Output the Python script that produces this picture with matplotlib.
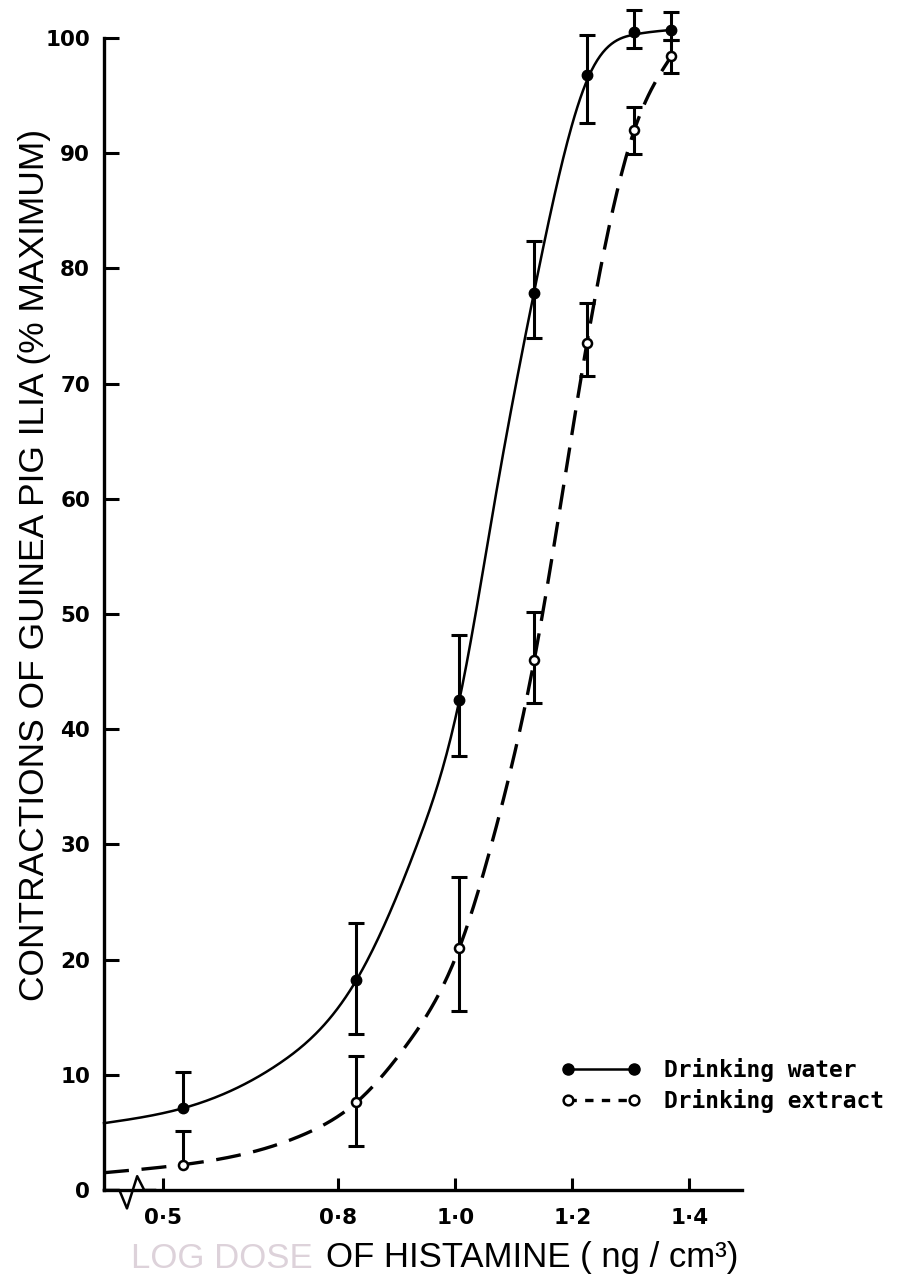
import numpy as np
import matplotlib
matplotlib.use("Agg")
import matplotlib.pyplot as plt
from matplotlib.lines import Line2D

# log dose of histamine for each test concentration
dose = [0.535, 0.831, 1.007, 1.135, 1.225, 1.306, 1.369]

# drinking water group: mean response and error bar extents (nan = not drawn)
water_y = [7.1, 18.2, 42.5, 77.9, 96.8, 100.5, 100.7]
water_lo = [np.nan, 4.7, 4.8, 3.9, 4.2, 1.4, 0.9]
water_hi = [3.1, 5.0, 5.7, 4.5, 3.5, 1.9, 1.6]

# drinking extract group
extract_y = [2.2, 7.6, 21.0, 46.0, 73.5, 92.0, 98.4]
extract_lo = [np.nan, 3.8, 5.5, 3.7, 2.8, 2.1, 1.4]
extract_hi = [2.9, 4.0, 6.2, 4.2, 3.5, 2.0, 1.4]

# hand drawn dose-response curves, sampled along their length
water_curve_x = [0.40, 0.535, 0.70, 0.831, 0.935, 1.007, 1.07, 1.135, 1.225, 1.306, 1.369]
water_curve_y = [5.8, 7.1, 11.0, 18.2, 30.0, 42.5, 60.5, 78.0, 96.3, 100.3, 100.7]
extract_curve_x = [0.40, 0.535, 0.745, 0.831, 0.92, 1.007, 1.07, 1.135, 1.225, 1.306, 1.369]
extract_curve_y = [1.5, 2.2, 4.9, 7.6, 12.8, 21.0, 31.5, 46.0, 73.5, 92.0, 98.4]

xticks = [0.5, 0.8, 1.0, 1.2, 1.4]
xtick_labels = ["0\u00b75", "0\u00b78", "1\u00b70", "1\u00b72", "1\u00b74"]
yticks = list(range(0, 101, 10))


def smooth_curve(xk, yk, xs):
    # natural cubic spline through the sampled curve points
    xk = np.asarray(xk, float)
    yk = np.asarray(yk, float)
    n = len(xk)
    h = np.diff(xk)
    d = np.diff(yk) / h
    A = np.zeros((n, n))
    r = np.zeros(n)
    A[0, 0] = A[-1, -1] = 1.0
    for i in range(1, n - 1):
        A[i, i - 1] = h[i - 1]
        A[i, i] = 2 * (h[i - 1] + h[i])
        A[i, i + 1] = h[i]
        r[i] = 6 * (d[i] - d[i - 1])
    M = np.linalg.solve(A, r)
    i = np.clip(np.searchsorted(xk, xs) - 1, 0, n - 2)
    a = xk[i + 1] - xs
    b = xs - xk[i]
    return (M[i] * a**3 / (6 * h[i]) + M[i + 1] * b**3 / (6 * h[i])
            + (yk[i] / h[i] - M[i] * h[i] / 6) * a
            + (yk[i + 1] / h[i] - M[i + 1] * h[i] / 6) * b)


def draw_bars(ax, x, y, lo, hi):
    x = np.asarray(x)
    y = np.asarray(y)
    lo_end = y - np.asarray(lo)
    hi_end = y + np.asarray(hi)
    base = np.where(np.isnan(lo_end), y, lo_end)
    ax.vlines(x, base, hi_end, color="black", lw=2.2, zorder=3, clip_on=False)
    for ends in (lo_end, hi_end):
        ax.plot(x, ends, ls="none", marker="_", ms=12, mew=2.2,
                color="black", zorder=3, clip_on=False)


fig = plt.figure(figsize=(9.08, 12.8), dpi=100)
ax = fig.add_axes([104 / 908, 90 / 1280, 638 / 908, 1152 / 1280])

xs = np.linspace(0.40, 1.369, 400)
ax.plot(xs, smooth_curve(water_curve_x, water_curve_y, xs), color="black", lw=1.8,
        zorder=2, clip_on=False)
ax.plot(xs, smooth_curve(extract_curve_x, extract_curve_y, xs), color="black", lw=2.4,
        ls=(0, (7.5, 3.8)), zorder=2, clip_on=False)

draw_bars(ax, dose, water_y, water_lo, water_hi)
draw_bars(ax, dose, extract_y, extract_lo, extract_hi)

ax.plot(dose, water_y, ls="none", marker="o", ms=7.5, mfc="black", mec="black",
        zorder=4, clip_on=False)
ax.plot(dose, extract_y, ls="none", marker="o", ms=6.5, mfc="white", mec="black",
        mew=1.8, zorder=4, clip_on=False)

ax.set_xlim(0.40, 1.49)
ax.set_ylim(0, 100)
ax.set_xticks(xticks)
ax.set_xticklabels(xtick_labels)
ax.set_yticks(yticks)
ax.set_yticklabels([str(v) for v in yticks])

for side in ("top", "right"):
    ax.spines[side].set_visible(False)
for side in ("left", "bottom"):
    ax.spines[side].set_linewidth(2.4)

tick_font = dict(family="DejaVu Sans", weight="bold", size=15.5)
ax.tick_params(axis="y", direction="in", length=11, width=2.2, pad=10)
ax.tick_params(axis="x", direction="in", length=9, width=2.2, pad=13)
for lab in ax.get_xticklabels() + ax.get_yticklabels():
    lab.set_fontproperties(tick_font)
ax.yaxis.get_major_ticks()[0].tick1line.set_visible(False)

# axis break on the dose axis
ax.plot([0.0, 0.024, 0.036, 0.052, 0.063, 0.08], [0, 0, -0.016, 0.012, 0.0, 0.0],
        transform=ax.transAxes, color="black", lw=1.8, clip_on=False, zorder=5)

fig.text(35 / 908, 1 - 565 / 1280, "CONTRACTIONS OF GUINEA PIG ILIA (% MAXIMUM)",
         rotation=90, ha="center", va="center", family="Liberation Sans", size=25.5)
fig.text(322 / 908, 1 - 1258 / 1280, "LOG DOSE ", ha="right", va="center",
         family="Liberation Sans", size=25, color="#ddd2da")
fig.text(326 / 908, 1 - 1258 / 1280, "OF HISTAMINE ( ng / cm\u00b3)", ha="left",
         va="center", family="Liberation Sans", size=25, color="black")

handles = [
    Line2D([], [], color="black", lw=1.8, marker="o", ms=8, mfc="black"),
    Line2D([], [], color="black", lw=2.4, ls=(0, (2.5, 2.5)), marker="o", ms=7,
           mfc="white", mew=1.8),
]
ax.legend(handles, ["Drinking water", "Drinking extract"], loc="upper left",
          bbox_to_anchor=(561 / 908, 1 - 1058 / 1280), bbox_transform=fig.transFigure,
          frameon=False, numpoints=2, handlelength=3.5, handletextpad=1.0,
          borderpad=0, borderaxespad=0, labelspacing=0.3,
          prop=dict(family="DejaVu Sans Mono", weight="bold", size=16.5))

fig.savefig("out.png", dpi=100, facecolor="white")
